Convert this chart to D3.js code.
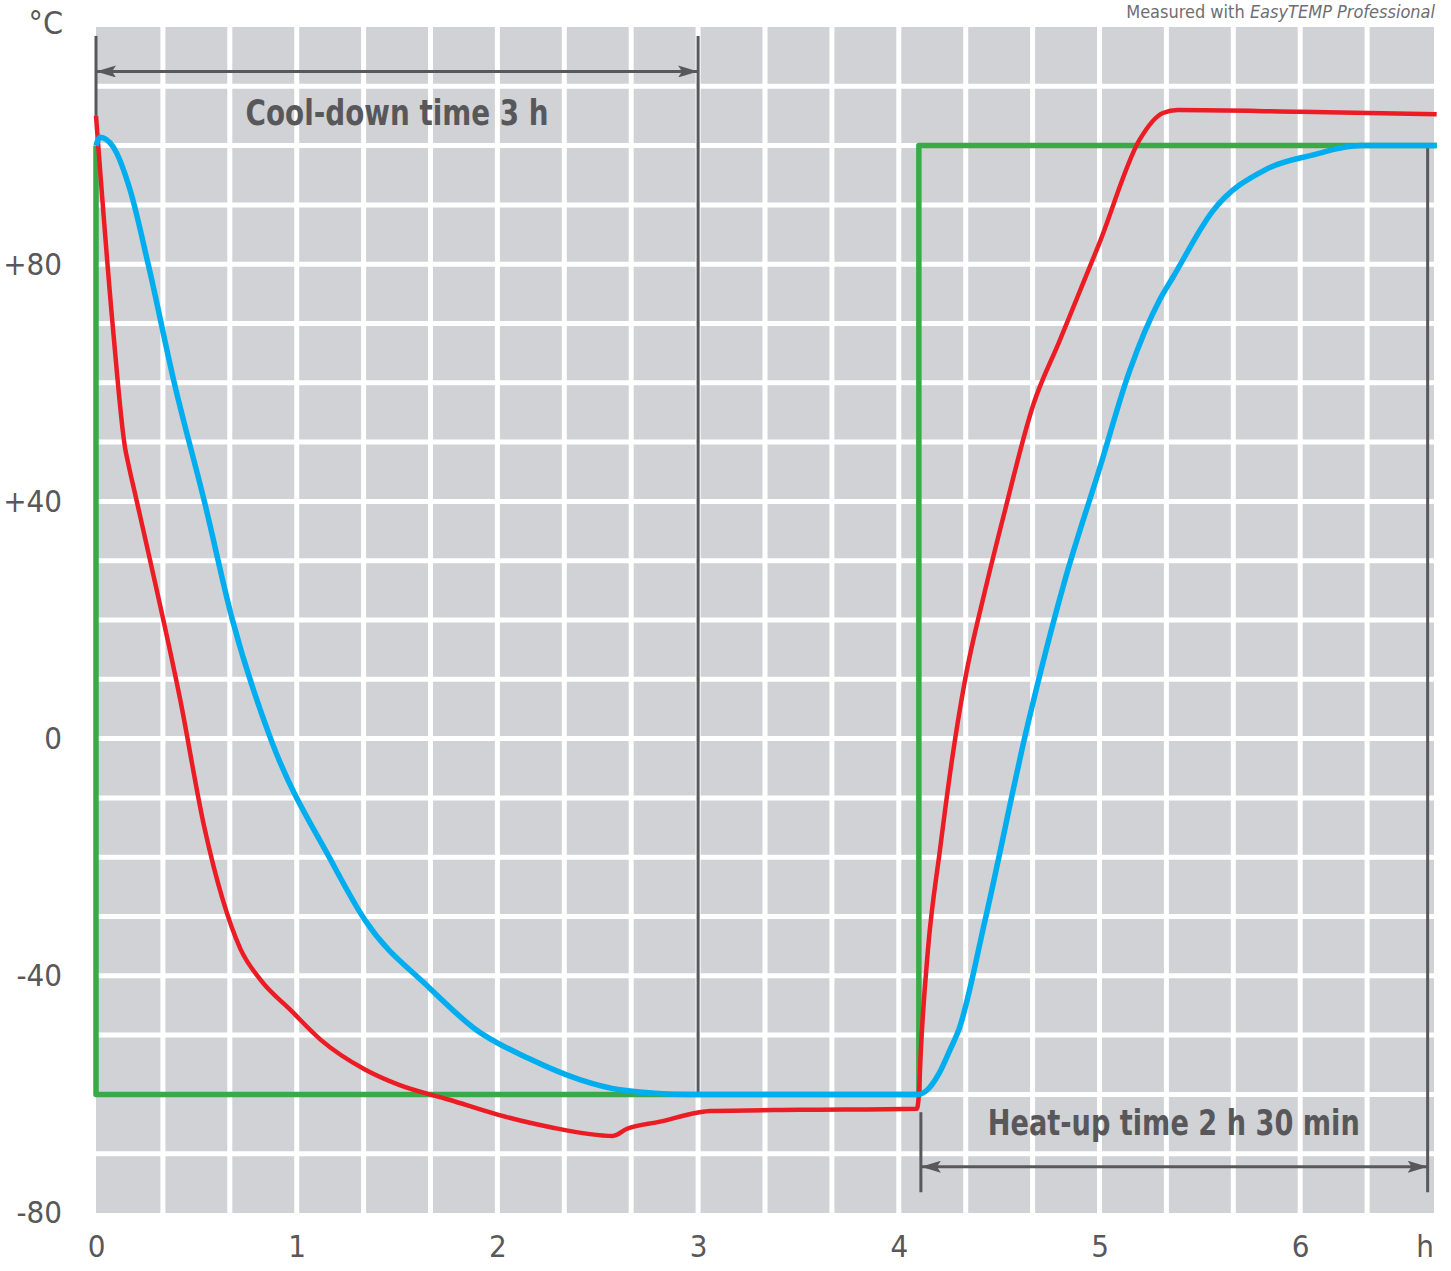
<!DOCTYPE html>
<html lang="en">
<head>
    <meta charset="UTF-8">
    <title>Cool-down / heat-up</title>
    <script src="https://d3js.org/d3.v7.min.js"></script>
    <style>
        body { margin: 0; background: #fff; }
        svg text { font-family: "DejaVu Sans", sans-serif; font-stretch: condensed; fill: #58585a; }
    </style>
</head>
<body>
    <div id="graphArea"></div>
    <script>
        // setpoint (green)
        const setpointTime = [0, 0, 4.1, 4.1, 6.68];
        const setpointTemp = [100, -60, -60, 100, 100];

        // chamber temperature (red)
        const chamberTime = [0, 0.085, 0.145, 0.16, 0.2, 0.27, 0.42, 0.54, 0.63, 0.72, 0.82, 0.97, 1.12, 1.34, 1.51, 1.76, 2.01, 2.26, 2.576, 2.646, 2.81, 2.994, 3.06, 3.51, 4.09, 4.1, 4.11, 4.145, 4.205, 4.265, 4.33, 4.43, 4.53, 4.67, 4.8, 5.0, 5.2, 5.316, 5.39, 6.0, 6.68];
        const chamberTemp = [105, 69, 49, 46.5, 40.5, 30, 6.5, -15, -27, -35.5, -40.7, -45.8, -50.8, -55.8, -58.4, -60.9, -63.5, -65.5, -67, -65.8, -64.6, -63.1, -62.8, -62.6, -62.4, -60, -52.5, -35.7, -18.8, -3.6, 9.9, 25, 38.6, 56.3, 67, 83.6, 101, 105.5, 106, 105.7, 105.3];

        // sample temperature (blue)
        const sampleTime = [0, 0.02, 0.085, 0.17, 0.26, 0.39, 0.54, 0.68, 0.87, 1.17, 1.34, 1.66, 1.89, 2.16, 2.41, 2.61, 2.96, 3.5, 4.1, 4.14, 4.2, 4.255, 4.3, 4.43, 4.64, 4.83, 5.0, 5.15, 5.3, 5.366, 5.565, 5.83, 6.06, 6.3, 6.68];
        const sampleTemp = [100, 101.4, 99.8, 92.5, 80, 60, 40, 20, 0, -20.5, -30.6, -42, -49, -54, -57.5, -59.2, -60, -60, -60, -59.3, -56.5, -52.5, -49, -30.6, 2, 27, 45.5, 62, 74, 77.8, 89, 96, 98.4, 100, 100];

        const hourTicks = [0, 1, 2, 3, 4, 5, 6];
        const tempTicks = [-80, -40, 0, 40, 80];

        const width = 1451, height = 1271;
        const x = d3.scaleLinear().domain([0, 20 / 3]).range([96, 1434]);
        const y = d3.scaleLinear().domain([-80, 120]).range([1213, 27]);

        const svg = d3.select("#graphArea").append("svg")
            .attr("width", width)
            .attr("height", height);

        const defs = svg.append("defs");
        ["start", "end"].forEach(k => {
            defs.append("marker")
                .attr("id", "arrow-" + k)
                .attr("viewBox", "0 0 20 12")
                .attr("refX", k == "end" ? 20 : 0)
                .attr("refY", 6)
                .attr("markerWidth", 20)
                .attr("markerHeight", 12)
                .attr("markerUnits", "userSpaceOnUse")
                .attr("orient", "auto")
                .append("path")
                .attr("d", k == "end" ? "M0,0 L20,6 L0,12 L4,6 Z" : "M20,0 L0,6 L20,12 L16,6 Z")
                .attr("fill", "#58585a");
        });

        // gray grid background
        svg.append("rect")
            .attr("x", x(0))
            .attr("y", y(120))
            .attr("width", x(20 / 3) - x(0))
            .attr("height", y(-80) - y(120))
            .attr("fill", "#d1d2d6");

        const grid = svg.append("g").attr("stroke", "#fff").attr("stroke-width", 5);
        grid.selectAll(".vl")
            .data(d3.range(1, 20).map(k => k / 3))
            .join("line")
            .attr("x1", d => x(d)).attr("x2", d => x(d))
            .attr("y1", y(120)).attr("y2", y(-80));
        grid.selectAll(".hl")
            .data(d3.range(-70, 120, 10))
            .join("line")
            .attr("x1", x(0)).attr("x2", x(20 / 3))
            .attr("y1", d => y(d)).attr("y2", d => y(d));

        // axes
        const xAxis = svg.append("g")
            .attr("transform", `translate(0, ${y(-80)})`)
            .call(d3.axisBottom(x).tickValues(hourTicks.concat([6.62]))
                .tickFormat(d => d > 6.5 ? "h" : d).tickSize(0).tickPadding(22));
        const yAxis = svg.append("g")
            .attr("transform", `translate(${x(0)}, 0)`)
            .call(d3.axisLeft(y).tickValues(tempTicks)
                .tickFormat(d => d > 0 ? "+" + d : d).tickSize(0).tickPadding(34));
        [xAxis, yAxis].forEach(a => {
            a.select(".domain").remove();
            a.attr("font-family", null);
            a.selectAll("text").attr("font-size", 31).attr("fill", "#58585a");
        });
        xAxis.selectAll("text").attr("dy", "0.71em");

        svg.append("text")
            .attr("x", 63).attr("y", 34)
            .attr("text-anchor", "end")
            .attr("font-size", 32)
            .text("°C");

        const header = svg.append("text")
            .attr("x", 1435).attr("y", 18)
            .attr("text-anchor", "end")
            .attr("font-size", 18)
            .style("fill", "#6d6e71");
        header.append("tspan").text("Measured with ");
        header.append("tspan").attr("font-style", "italic").text("EasyTEMP Professional");

        // data lines
        const line = d3.line().x(d => x(d[0])).y(d => y(d[1]));
        const series = [
            { t: setpointTime, v: setpointTemp, color: "#3aaa48", w: 5.5, curve: d3.curveLinear },
            { t: chamberTime, v: chamberTemp, color: "#ec1c24", w: 4.5, curve: d3.curveMonotoneX },
            { t: sampleTime, v: sampleTemp, color: "#00aeef", w: 5.5, curve: d3.curveMonotoneX }
        ];

        // annotations (under data lines)
        const ann = svg.append("g").attr("stroke", "#58585a").attr("stroke-width", 3).attr("fill", "none");
        ann.append("line").attr("x1", x(0)).attr("x2", x(0)).attr("y1", y(118.5)).attr("y2", y(105));
        ann.append("line").attr("x1", x(3)).attr("x2", x(3)).attr("y1", y(118.5)).attr("y2", y(-60));
        ann.append("line").attr("x1", x(0)).attr("x2", x(3)).attr("y1", y(112.5)).attr("y2", y(112.5))
            .attr("marker-start", "url(#arrow-start)").attr("marker-end", "url(#arrow-end)");
        ann.append("line").attr("x1", x(4.11)).attr("x2", x(4.11)).attr("y1", y(-63)).attr("y2", y(-76.5));
        ann.append("line").attr("x1", x(6.635)).attr("x2", x(6.635)).attr("y1", y(100)).attr("y2", y(-76.5));
        ann.append("line").attr("x1", x(4.11)).attr("x2", x(6.635)).attr("y1", y(-72.2)).attr("y2", y(-72.2))
            .attr("marker-start", "url(#arrow-start)").attr("marker-end", "url(#arrow-end)");

        svg.append("text")
            .attr("x", x(1.5)).attr("y", y(103.4))
            .attr("text-anchor", "middle")
            .attr("font-size", 36).attr("font-weight", "bold")
            .attr("textLength", 303).attr("lengthAdjust", "spacingAndGlyphs")
            .text("Cool-down time 3 h");
        svg.append("text")
            .attr("x", x(5.37)).attr("y", y(-66.9))
            .attr("text-anchor", "middle")
            .attr("font-size", 36).attr("font-weight", "bold")
            .attr("textLength", 372).attr("lengthAdjust", "spacingAndGlyphs")
            .text("Heat-up time 2 h 30 min");

        series.forEach(s => {
            svg.append("path")
                .datum(s.t.map((t, i) => [t, s.v[i]]))
                .attr("fill", "none")
                .attr("stroke", s.color)
                .attr("stroke-width", s.w)
                .attr("stroke-linejoin", "round")
                .attr("d", line.curve(s.curve));
        });
    </script>
</body>
</html>
